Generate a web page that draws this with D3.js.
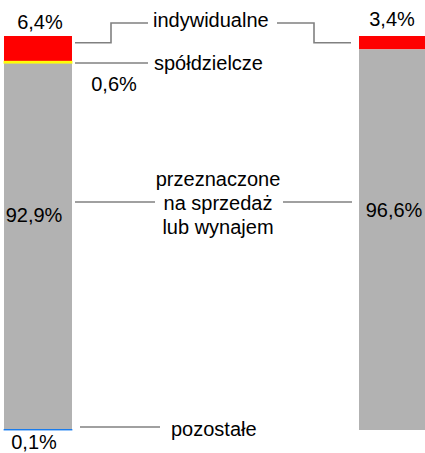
<!DOCTYPE html>
<html><head><meta charset="utf-8">
<script src="https://cdn.jsdelivr.net/npm/d3@7"></script>
<style>html,body{margin:0;padding:0;background:#fff;}svg{display:block;}</style>
</head><body>
<svg id="c" width="425" height="453"></svg>
<script>
const categories = ["lewa", "prawa"];
const seriesNames = ["indywidualne", "spółdzielcze", "przeznaczone na sprzedaż lub wynajem", "pozostałe"];
const indywidualne = [6.4, 3.4];
const spoldzielcze = [0.6, 0];
const przeznaczone = [92.9, 96.6];
const pozostale = [0.1, 0];
const labelsLeft = ["6,4%", "0,6%", "92,9%", "0,1%"];
const labelsRight = ["3,4%", "", "96,6%", ""];
const colors = ["#ff0000", "#ffff00", "#b2b2b2", "#0070f0"];

const svg = d3.select("#c");
const font = "Liberation Sans, Arial, sans-serif";
const fs = 20;

const rows = categories.map((c, i) => ({
  cat: c,
  s0: indywidualne[i], s1: spoldzielcze[i], s2: przeznaczone[i], s3: pozostale[i]
}));
const keys = ["s0", "s1", "s2", "s3"];
const stacked = d3.stack().keys(keys)(rows);

const x = d3.scaleBand().domain(categories).range([4, 427]).paddingInner(0.8085).paddingOuter(0);
const y = d3.scaleLinear().domain([0, 100]).range([36, 430]);

svg.append("g").selectAll("g").data(stacked).join("g")
  .attr("fill", (d, i) => colors[i])
  .attr("stroke", (d, i) => colors[i])
  .selectAll("rect").data(d => d).join("rect")
  .attr("x", d => x(d.data.cat))
  .attr("width", x.bandwidth())
  .attr("y", d => y(d[0]))
  .attr("height", d => y(d[1]) - y(d[0]))
  .attr("stroke-width", d => (d[1] - d[0] > 0 && d[1] - d[0] < 1) ? 0.8 : 0);

// connector lines
const lc = "#808080";
const line = pts => svg.append("path").attr("d", d3.line()(pts))
  .attr("fill", "none").attr("stroke", lc).attr("stroke-width", 1.6);
const lx = x(categories[0]) + x.bandwidth();
const rx = x(categories[1]);
const yInd = y(indywidualne[1] / 2);
line([[lx + 3, yInd], [111, yInd], [111, 23], [148, 23]]);
line([[277, 23], [314, 23], [314, yInd], [rx - 8, yInd]]);
line([[lx + 3, 63], [148, 63]]);
line([[lx + 3, 202], [155, 202]]);
line([[283, 202], [rx - 7, 202]]);
line([[80, 427], [160, 427]]);

const text = (t, xx, yy, anchor) => svg.append("text").text(t)
  .attr("x", xx).attr("y", yy).attr("text-anchor", anchor || "start")
  .attr("font-family", font).attr("font-size", fs).attr("fill", "#000");

text(seriesNames[0], 153, 27);
text(seriesNames[1], 154, 70);
text("przeznaczone", 218, 186, "middle");
text("na sprzedaż", 218, 210, "middle");
text("lub wynajem", 218, 234, "middle");
text(seriesNames[3], 171, 436);

const cl = x(categories[0]) + x.bandwidth() / 2;
const cr = x(categories[1]) + 33;
text(labelsLeft[0], cl + 2, 29, "middle");
text(labelsLeft[1], 114, 91, "middle");
text(labelsLeft[2], 34, 222, "middle");
text(labelsLeft[3], 34, 449, "middle");
text(labelsRight[0], cr, 26, "middle");
text(labelsRight[2], cr + 2, 217, "middle");
</script>
</body></html>
